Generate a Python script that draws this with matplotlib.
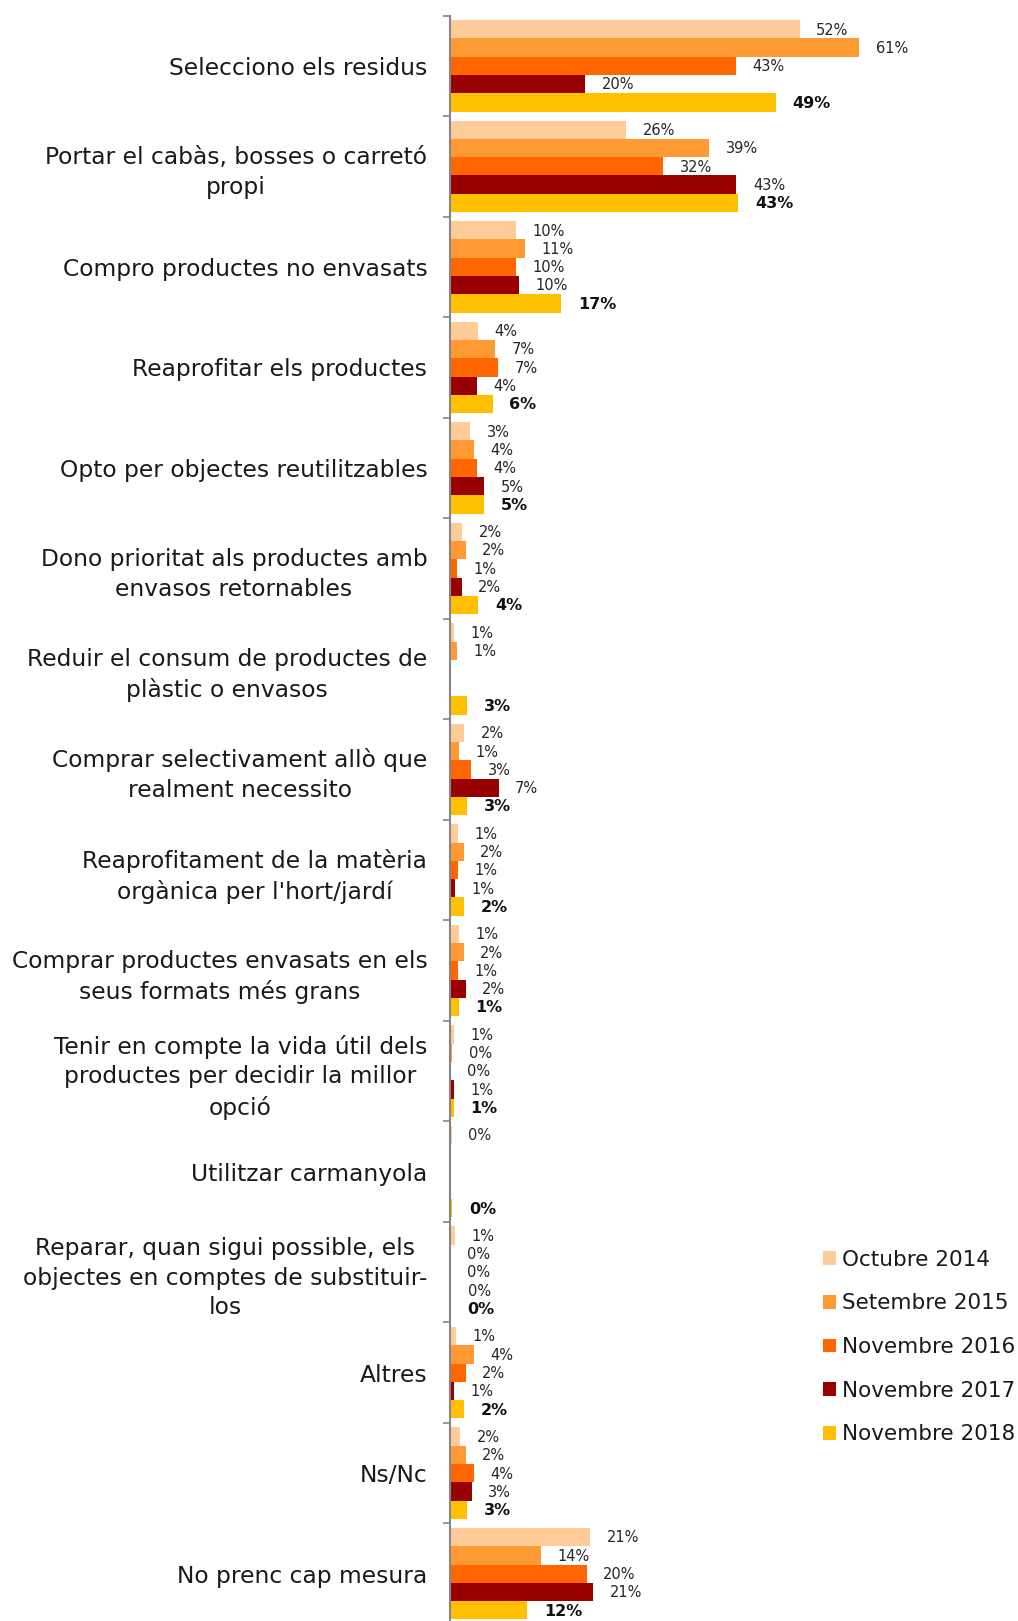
import numpy as np
import matplotlib
matplotlib.use("Agg")
import matplotlib.pyplot as plt

nan = np.nan

categories = [
    "Selecciono els residus",
    "Portar el cabàs, bosses o carretó\npropi",
    "Compro productes no envasats",
    "Reaprofitar els productes",
    "Opto per objectes reutilitzables",
    "Dono prioritat als productes amb\nenvasos retornables",
    "Reduir el consum de productes de\nplàstic o envasos",
    "Comprar selectivament allò que\nrealment necessito",
    "Reaprofitament de la matèria\norgànica per l'hort/jardí",
    "Comprar productes envasats en els\nseus formats més grans",
    "Tenir en compte la vida útil dels\nproductes per decidir la millor\nopció",
    "Utilitzar carmanyola",
    "Reparar, quan sigui possible, els\nobjectes en comptes de substituir-\nlos",
    "Altres",
    "Ns/Nc",
    "No prenc cap mesura",
]

series_names = ["Octubre 2014", "Setembre 2015", "Novembre 2016",
                "Novembre 2017", "Novembre 2018"]

oct_2014 = [52.1, 26.3, 9.9, 4.2, 3.1, 1.9, 0.7, 2.2, 1.3, 1.4, 0.7, 0.3, 0.8, 1.0, 1.6, 20.9]
set_2015 = [61.0, 38.6, 11.2, 6.8, 3.6, 2.4, 1.1, 1.4, 2.1, 2.1, 0.4, nan, 0.1, 3.6, 2.4, 13.6]
nov_2016 = [42.6, 31.8, 9.9, 7.2, 4.1, 1.1, nan, 3.2, 1.2, 1.2, 0.05, nan, 0.1, 2.4, 3.6, 20.4]
nov_2017 = [20.2, 42.7, 10.3, 4.1, 5.2, 1.8, nan, 7.3, 0.8, 2.4, 0.6, nan, 0.2, 0.6, 3.3, 21.4]
nov_2018 = [48.6, 43.0, 16.6, 6.4, 5.2, 4.3, 2.6, 2.6, 2.1, 1.4, 0.6, 0.4, 0.2, 2.2, 2.6, 11.6]

series_values = [oct_2014, set_2015, nov_2016, nov_2017, nov_2018]
colors = ["#FFCC99", "#FF9933", "#FF6600", "#990000", "#FFC000"]

W, H = 1018, 1621
fig = plt.figure(figsize=(W / 100, H / 100), dpi=100)

ax_left = 449.5 / W
ax_top = 1 - 15.5 / H
ax_bottom = 1 - 1624 / H
ax = fig.add_axes([ax_left, ax_bottom, 1 - ax_left, ax_top - ax_bottom])

n_cat = len(categories)
n_ser = len(series_names)
y = np.arange(n_cat)
bar_h = 0.182
offsets = (np.arange(n_ser) - (n_ser - 1) / 2) * bar_h

handles = []
for k, (name, vals, col) in enumerate(zip(series_names, series_values, colors)):
    vals = np.array(vals, dtype=float)
    mask = ~np.isnan(vals)
    bc = ax.barh(y[mask] + offsets[k], vals[mask], height=bar_h, color=col,
                 edgecolor="none", label=name)
    handles.append(bc)
    bold = (k == n_ser - 1)
    for yy, v in zip(y[mask] + offsets[k], vals[mask]):
        ax.annotate(f"{v:.0f}%", xy=(v, yy), xytext=(12.0, -0.6),
                    textcoords="offset points", ha="left", va="center",
                    fontsize=11.5 if bold else 10.5,
                    fontweight="bold" if bold else "normal",
                    color="#111111" if bold else "#262626")

ax.set_xlim(0, (W - 449.5) / 6.72)
ax.set_ylim(n_cat - 0.5, -0.5)

for s in ["top", "right", "bottom"]:
    ax.spines[s].set_visible(False)
ax.spines["left"].set_color("#868686")
ax.spines["left"].set_linewidth(1.5)
ax.set_xticks([])

ax.set_yticks(np.arange(n_cat + 1) - 0.5)
ax.set_yticklabels([])
ax.tick_params(axis="y", which="major", length=5, width=1.2, color="#868686",
               direction="out")
ax.set_yticks(y, minor=True)
ax.set_yticklabels(categories, minor=True, fontsize=16.8, color="#1a1a1a",
                   multialignment="center", linespacing=1.38)
ax.tick_params(axis="y", which="minor", length=0, pad=16)

fig.legend(handles, series_names, loc="center left",
           bbox_to_anchor=(823 / W, 1 - 1347 / H), frameon=False,
           fontsize=15.5, handlelength=0.6, handleheight=0.6,
           handletextpad=0.3, labelspacing=1.1, borderpad=0,
           borderaxespad=0, labelcolor="#1a1a1a")

fig.savefig("out.png", dpi=100)
